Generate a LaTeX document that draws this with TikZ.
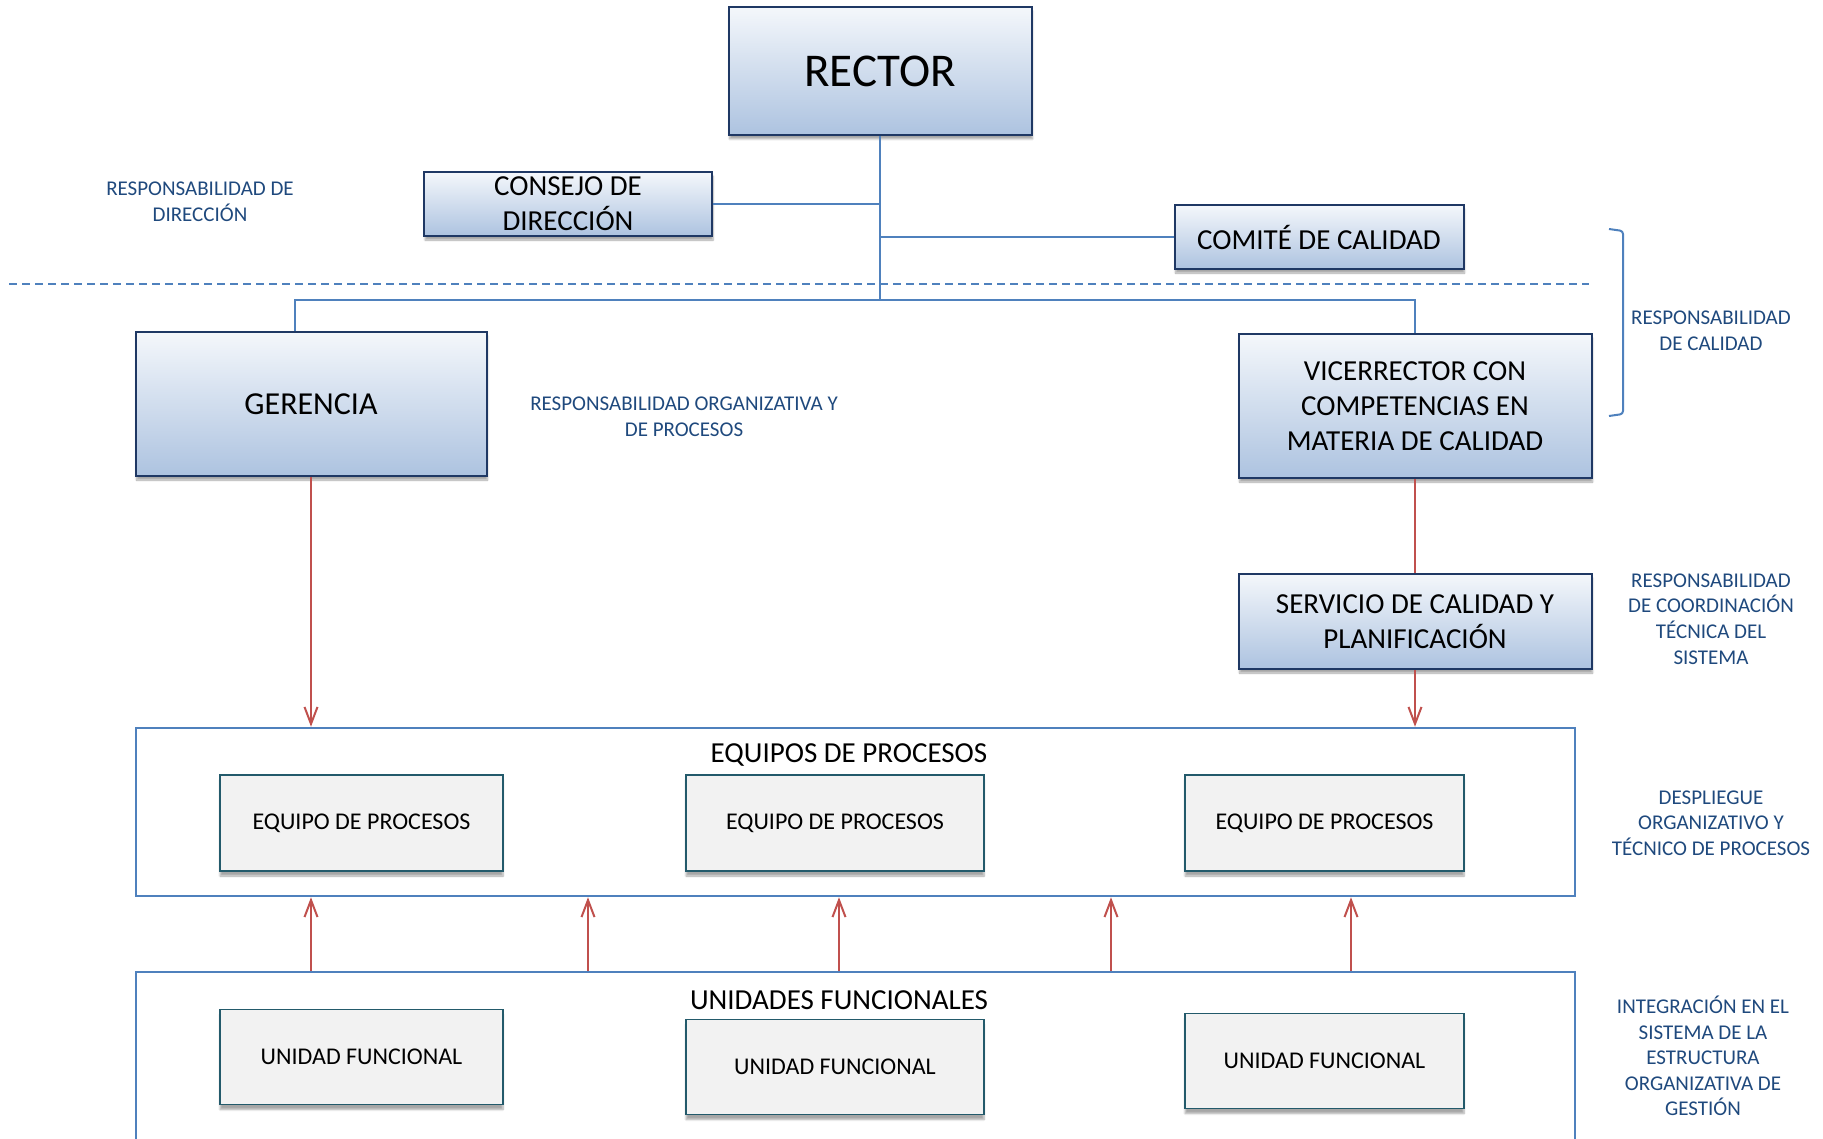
\documentclass[tikz,border=0pt]{standalone}
\usepackage{fontspec}
\setmainfont{Carlito}
\usetikzlibrary{arrows.meta, positioning, shadows.blur}

\definecolor{boxline}{HTML}{1F3864}
\definecolor{boxtop}{HTML}{F4F7FB}
\definecolor{boxbot}{HTML}{ADC3E0}
\definecolor{linkblue}{HTML}{4F81BD}
\definecolor{arrred}{HTML}{C0504D}
\definecolor{grayline}{HTML}{235A6B}
\definecolor{grayfill}{HTML}{F2F2F2}
\definecolor{notetext}{HTML}{1F497D}

\begin{document}
\begin{tikzpicture}[
						x=1pt, y=-1pt,
						node distance={10pt},
						bluebox/.style = {draw=boxline, line width=2pt, top color=boxtop, bottom color=boxbot, align=center, inner sep=0pt,
							blur shadow={shadow xshift=1pt, shadow yshift=-4pt, shadow blur steps=6, shadow opacity=35},
							font=\fontsize{29}{35}\selectfont},
						graybox/.style = {draw=grayline, line width=1.6pt, fill=grayfill, align=center, inner sep=0pt,
							minimum height=96pt,
							blur shadow={shadow xshift=0pt, shadow yshift=-5pt, shadow blur steps=6, shadow opacity=35},
							font=\fontsize{24}{29}\selectfont},
						frame/.style = {draw=linkblue, line width=2.5pt, inner sep=0pt},
						title/.style = {font=\fontsize{29}{35}\selectfont, inner sep=0pt},
						link/.style = {draw=linkblue, line width=2.5pt},
						redline/.style = {draw=arrred, line width=2pt},
						redarr/.style = {draw=arrred, line width=2pt, -{Straight Barb[length=17pt, width=13pt, line width=2pt]}},
						note/.style = {text=notetext, align=center, inner sep=0pt, font=\fontsize{21}{25.6}\selectfont}
					]
\useasboundingbox (0,0) rectangle (1823,1139);

% direccion
\node[bluebox, minimum width=303pt, minimum height=128pt, font=\fontsize{47}{56}\selectfont] (rector) at (880,71) {RECTOR};
\node[bluebox, minimum width=288pt, minimum height=64pt] (consejo) at (568,204) {CONSEJO DE\\DIRECCIÓN};
\node[bluebox, minimum width=289pt, minimum height=64pt] (comite) at (1319,237) {COMITÉ DE CALIDAD};
\node[bluebox, minimum width=351pt, minimum height=144pt, font=\fontsize{32}{38}\selectfont] (gerencia) at (311,404) {GERENCIA};
\node[bluebox, minimum width=353pt, minimum height=144pt] (vice) at (1415,406) {VICERRECTOR CON\\COMPETENCIAS EN\\MATERIA DE CALIDAD};
\node[bluebox, minimum width=353pt, minimum height=95pt] (servicio) [below=94pt of vice] {SERVICIO DE CALIDAD Y\\PLANIFICACIÓN};

% equipos
\node[frame, minimum width=1439pt, minimum height=168pt] (equipos) at (855.5,812) {};
\node[title] (equipostit) at (849,755) {EQUIPOS DE PROCESOS};
\node[graybox, minimum width=283pt] (ep1) at (361.5,823) {EQUIPO DE PROCESOS};
\node[graybox, minimum width=298pt] (ep2) at (835,823) {EQUIPO DE PROCESOS};
\node[graybox, minimum width=279pt] (ep3) at (1324.5,823) {EQUIPO DE PROCESOS};

% unidades
\node[frame, minimum width=1439pt, minimum height=200pt] (unidades) at (855.5,1072) {};
\node[title] (unidtit) at (839,1000) {UNIDADES FUNCIONALES};
\node[graybox, minimum width=283pt, minimum height=95pt] (uf1) at (361.5,1057) {UNIDAD FUNCIONAL};
\node[graybox, minimum width=298pt, minimum height=95pt] (uf2) at (835,1067) {UNIDAD FUNCIONAL};
\node[graybox, minimum width=279pt, minimum height=95pt] (uf3) at (1324.5,1061) {UNIDAD FUNCIONAL};

% textos laterales
\node[note] (rdir) at (200,202) {RESPONSABILIDAD DE\\DIRECCIÓN};
\node[note] (rorg) at (684,417) {RESPONSABILIDAD ORGANIZATIVA Y\\DE PROCESOS};
\node[note] (rcal) at (1711,331) {RESPONSABILIDAD\\DE CALIDAD};
\node[note] (rcoord) at (1711,619) {RESPONSABILIDAD\\DE COORDINACIÓN\\TÉCNICA DEL\\SISTEMA};
\node[note] (rdesp) at (1711,823) {DESPLIEGUE\\ORGANIZATIVO Y\\TÉCNICO DE PROCESOS};
\node[note] (rint) at (1703,1056) {INTEGRACIÓN EN EL\\SISTEMA DE LA\\ESTRUCTURA\\ORGANIZATIVA DE\\GESTIÓN};

\coordinate (bus) at (880,300);
\coordinate (dl) at (9,284);
\coordinate (dr) at (1589,284);

\draw[link, dash pattern=on 8pt off 5pt, line width=2pt] (dl) -- (dr);
\draw[link] (rector) -- (bus);
\draw[link] (consejo.east) -- (consejo.east -| bus);
\draw[link] (comite.west) -- (comite.west -| bus);
\draw[link] (bus) -| ([xshift=-16pt]gerencia.north);
\draw[link] (bus) -| (vice.north);
\draw[link, line width=2pt, rounded corners=3pt] (1609,229) -- (1623,231) -- (1623,414) -- (1609,416);

\draw[redarr] (gerencia) -- (gerencia |- equipos.north);
\draw[redline] (vice) -- (servicio);
\draw[redarr] (servicio) -- (servicio |- equipos.north);
\foreach \x in {311,588,839,1111,1351}{
	\coordinate (up) at (\x,0);
	\draw[redarr] (unidades.north -| up) -- (equipos.south -| up);
}
\end{tikzpicture}
\end{document}
